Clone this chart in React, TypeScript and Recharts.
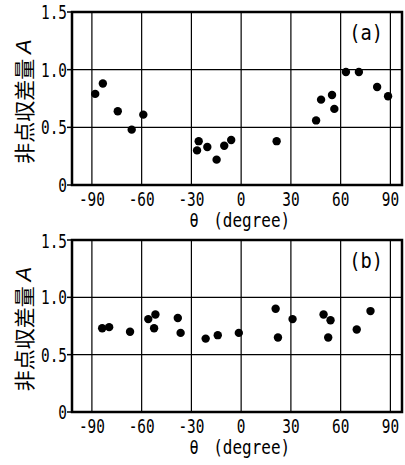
import { ScatterChart, Scatter, XAxis, YAxis, CartesianGrid, ReferenceArea, Label } from 'recharts';

// 角度 θ (degree) と 非点収差量 A
const thetaTicks = [-90, -60, -30, 0, 30, 60, 90];
const aTicks = [0, 0.5, 1.0, 1.5];

const thetaA = [-88, -83.4, -74.4, -66, -59, -26.6, -25.6, -20.4, -14.8, -10.2, -6, 21.4, 45.2, 48.2, 54.8, 56.2, 63.2, 71, 82, 88.6];
const valueA = [0.79, 0.88, 0.64, 0.48, 0.61, 0.3, 0.38, 0.33, 0.22, 0.34, 0.39, 0.38, 0.56, 0.74, 0.78, 0.66, 0.98, 0.98, 0.85, 0.77];

const thetaB = [-83.8, -79.6, -67, -56, -51.7, -52.5, -38.2, -36.5, -21.4, -14.1, -1.4, 20.8, 22.2, 31, 49.7, 53.9, 52.5, 69.7, 78];
const valueB = [0.73, 0.74, 0.7, 0.81, 0.85, 0.73, 0.82, 0.69, 0.64, 0.67, 0.69, 0.9, 0.65, 0.81, 0.85, 0.8, 0.65, 0.72, 0.88];

const X_DOMAIN: [number, number] = [-102, 97];
const MONO = '"DejaVu Sans Mono", monospace';

const zip = (xs: number[], ys: number[]) => xs.map((t, i) => ({ theta: t, a: ys[i] }));

function MonoTick({ x, y, payload, anchor, dy, fmt }: any) {
  return (
    <g transform={`translate(${x},${y}) scale(0.72,1)`}>
      <text x={0} y={0} dy={dy} textAnchor={anchor} fontFamily={MONO} fontSize={20} fill="#000">
        {fmt(payload.value)}
      </text>
    </g>
  );
}

const fmtY = (v: number) => (v === 0 ? '0' : v.toFixed(1));
const fmtX = (v: number) => String(v);

const Dot = (props: any) => <circle cx={props.cx} cy={props.cy} r={4.2} fill="#000" />;

function Panel({ data, tag, height, top, axisHeight }: { data: any[]; tag: string; height: number; top: number; axisHeight: number }) {
  return (
    <ScatterChart width={405} height={height} margin={{ top, right: 3, bottom: 0, left: 0 }}>
      <CartesianGrid stroke="#000" strokeWidth={1.2} />
      <XAxis
        type="number"
        dataKey="theta"
        domain={X_DOMAIN}
        ticks={thetaTicks}
        allowDataOverflow
        height={axisHeight}
        axisLine={false}
        tickLine={false}
        tickSize={0}
        tickMargin={0}
        tick={<MonoTick anchor="middle" dy={21} fmt={fmtX} />}
      >
        <Label
          content={(p: any) => {
            const vb = p.viewBox || {};
            const y = (vb.y ?? 185) + 42;
            const x0 = vb.x ?? 72;
            return (
              <g transform={`translate(${x0 + 122},${y}) scale(0.8,1)`}>
                <text x={0} y={0} textAnchor="middle" fontFamily={MONO} fontSize={19} fill="#000">θ</text>
                <text x={24} y={0} textAnchor="start" fontFamily={MONO} fontSize={20} fill="#000">(degree)</text>
              </g>
            );
          }}
        />
      </XAxis>
      <YAxis
        type="number"
        dataKey="a"
        domain={[0, 1.5]}
        ticks={aTicks}
        width={72}
        axisLine={false}
        tickLine={{ stroke: '#000', strokeWidth: 1.5 }}
        tickSize={5}
        tickMargin={0}
        tick={<MonoTick anchor="end" dy={7} fmt={fmtY} />}
      >
        <Label
          content={(p: any) => {
            const vb = p.viewBox || {};
            const cy = (vb.y ?? 12) + (vb.height ?? 173) / 2 + 3;
            return (
              <text
                transform={`translate(23,${cy}) rotate(-90)`}
                textAnchor="middle"
                dominantBaseline="central"
                fill="#000"
              >
                <tspan fontFamily='"Noto Sans CJK JP"' fontSize={21}>非点収差量 </tspan>
                <tspan fontFamily='"Liberation Sans"' fontStyle="italic" fontSize={22}>A</tspan>
              </text>
            );
          }}
        />
      </YAxis>
      <ReferenceArea
        x1={X_DOMAIN[0]}
        x2={X_DOMAIN[1]}
        y1={0}
        y2={1.5}
        fill="none"
        stroke="#000"
        strokeWidth={2.5}
        ifOverflow="visible"
        label={(p: any) => {
          const vb = p.viewBox || {};
          return (
            <g transform={`translate(${vb.x + vb.width - 36},${vb.y + 28}) scale(0.85,1)`}>
              <text x={0} y={0} textAnchor="middle" fontFamily={MONO} fontSize={22} fill="#000">{tag}</text>
            </g>
          );
        }}
      />
      <Scatter data={data} shape={Dot} isAnimationActive={false} />
    </ScatterChart>
  );
}

export default function App() {
  return (
    <div style={{ width: 405, height: 465, background: '#fff' }}>
      <style>{`body{margin:0} svg.recharts-surface{overflow:visible}`}</style>
      <Panel data={zip(thetaA, valueA)} tag="(a)" height={232} top={12} axisHeight={47} />
      <Panel data={zip(thetaB, valueB)} tag="(b)" height={233} top={8} axisHeight={53} />
    </div>
  );
}
